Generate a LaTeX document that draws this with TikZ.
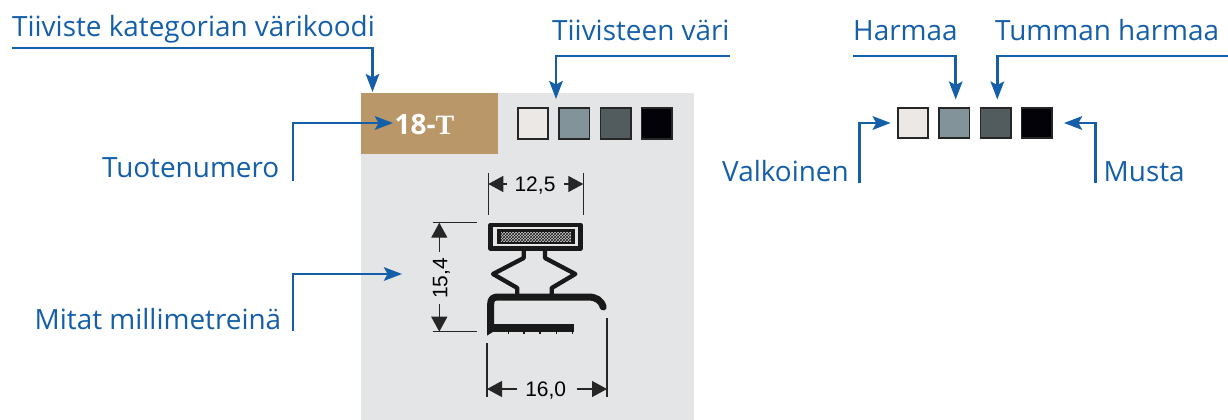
\documentclass[tikz,border=0pt]{standalone}
\usepackage{fontspec}
\setmainfont{Open Sans}
\newfontfamily\dimfont{Liberation Sans}
\newfontfamily\codefont{Liberation Serif}
\usetikzlibrary{arrows.meta,patterns}
\definecolor{linkblue}{HTML}{155FA9}
\definecolor{panelgray}{HTML}{E4E5E7}
\definecolor{codebrown}{HTML}{BA9769}
\tikzset{
	caption/.style = {inner sep=0pt, text=linkblue, font=\fontsize{27.9}{32}\selectfont, anchor=base west},
	callout/.style = {draw=linkblue, line width=2.7pt, -{Stealth[length=18pt,width=13.5pt,inset=3.5pt]}},
	swatch/.style = {draw=black!85, line width=1.6pt, minimum size=30.5pt, inner sep=0pt, node distance=41.3pt},
	dimtext/.style = {inner sep=0pt, font=\dimfont\fontsize{21}{24}\selectfont},
	dimline/.style = {draw=black!85, line width=1.2pt},
	dimarrow/.style = {draw=black!85, line width=1.2pt, -{Triangle[length=15pt,width=16pt]}},
	seal/.style = {draw=black!90, line width=4.3pt, line join=round}
}
\begin{document}
\begin{tikzpicture}[x=1pt,y=-1pt]
		\useasboundingbox (0,0) rectangle (1228,420);
		\node (panel) [fill=panelgray, minimum width=333pt, minimum height=327pt, inner sep=0pt, anchor=north west] at (361,93) {};
		\node (code) [fill=codebrown, minimum width=137pt, minimum height=61pt, inner sep=0pt, anchor=north west] at (361,93) {};
		\node (num) [inner sep=0pt, anchor=base west, text=white] at (394.5,134) {\fontsize{28}{32}\selectfont\bfseries 18-\codefont T};

		% swatches on the panel
		\node (a1) [swatch, fill={rgb,255:red,235;green,232;blue,229}] at (533,123.5) {};
		\node (a2) [swatch, fill={rgb,255:red,131;green,147;blue,154}] [right of = a1] {};
		\node (a3) [swatch, fill={rgb,255:red,82;green,92;blue,94}] [right of = a2] {};
		\node (a4) [swatch, fill={rgb,255:red,2;green,2;blue,8}] [right of = a3] {};
		% swatches on the right
		\node (b1) [swatch, fill={rgb,255:red,235;green,232;blue,229}] at (913,123) {};
		\node (b2) [swatch, fill={rgb,255:red,131;green,147;blue,154}] [right of = b1] {};
		\node (b3) [swatch, fill={rgb,255:red,82;green,92;blue,94}] [right of = b2] {};
		\node (b4) [swatch, fill={rgb,255:red,2;green,2;blue,8}] [right of = b3] {};

		\node (kat) [caption] at (12,36.5) {Tiiviste kategorian värikoodi};
		\node (vari) [caption] at (552,40.5) {Tiivisteen väri};
		\node (harmaa) [caption] at (853,40.5) {Harmaa};
		\node (tumma) [caption] at (995,40.5) {Tumman harmaa};
		\node (tuote) [caption] at (102,177) {Tuotenumero};
		\node (mitat) [caption] at (34.5,329) {Mitat millimetreinä};
		\node (valk) [caption] at (722,181) {Valkoinen};
		\node (musta) [caption] at (1103.5,181) {Musta};

		\coordinate (katS) at (12,48);
		\coordinate (katT) at (372.5,92);
		\coordinate (variS) at (730,56);
		\coordinate (variT) at (556,99);
		\coordinate (harmaaS) at (853,56);
		\coordinate (harmaaT) at (955.7,99.5);
		\coordinate (tummaS) at (1228,56);
		\coordinate (tummaT) at (997.3,99.5);
		\coordinate (tuoteS) at (293,181);
		\coordinate (tuoteT) at (393,123);
		\coordinate (mitatS) at (293,331);
		\coordinate (mitatT) at (402,274);
		\coordinate (valkS) at (859.5,183);
		\coordinate (valkT) at (890.7,123);
		\coordinate (mustaS) at (1095.5,183);
		\coordinate (mustaT) at (1064,123);

		\draw [callout] (katS) -| (katT);
		\draw [callout] (variS) -| (variT);
		\draw [callout] (harmaaS) -| (harmaaT);
		\draw [callout] (tummaS) -| (tummaT);
		\draw [callout] (tuoteS) |- (tuoteT);
		\draw [callout] (mitatS) |- (mitatT);
		\draw [callout] (valkS) |- (valkT);
		\draw [callout] (mustaS) |- (mustaT);

		% the seal
		\draw [seal] (490.4,224.8) rectangle (580.6,248.6);
		\fill [black!90] (497.3,229.3) rectangle (575,244.3);
		\fill [gray!40] (501,232.3) rectangle (570.7,242.3);
		\fill [pattern=crosshatch, pattern color=black!90] (501,232.3) rectangle (570.7,242.3);
		\draw [seal] (523.7,250) -- (523.7,258) -- (493,274) -- (517.3,288) -- (517.3,295);
		\draw [seal] (545,250) -- (545,258) -- (575.3,274) -- (551.7,288) -- (551.7,295);
		\draw [seal, line width=7pt, line cap=round] (490.7,328) -- (490.7,304) .. controls (490.7,299) and (493,297) .. (498,297) -- (588,297) .. controls (596,297) and (601,300) .. (603.2,307);
		\fill [black!90] (487,324) rectangle (574.3,331.7);
		\fill [black!90] (487,331) -- (494.5,331) -- (487,335.6) -- cycle;
		\foreach \tx in {508.3,524,540,556.7,572.7}
			\fill [black!90] (\tx-0.6,331) rectangle (\tx+0.6,333.6);

		% dimensions
		\coordinate (wa) at (488.3,173);
		\coordinate (wb) at (488.3,215);
		\coordinate (wc) at (583.3,173);
		\coordinate (wd) at (583.3,215);
		\draw [dimline] (wa) -- (wb);
		\draw [dimline] (wc) -- (wd);
		\node (w) [dimtext] at (535,185.5) {12,5};
		\coordinate (we) at (506.7,184);
		\coordinate (wf) at (488.3,184);
		\coordinate (wg) at (564,184);
		\coordinate (wh) at (583.3,184);
		\draw [dimarrow] (we) -- (wf);
		\draw [dimarrow] (wg) -- (wh);

		\coordinate (ba) at (487,343);
		\coordinate (bb) at (487,397);
		\coordinate (bc) at (607,318);
		\coordinate (bd) at (607,397);
		\draw [dimline] (ba) -- (bb);
		\draw [dimline] (bc) -- (bd);
		\node (b) [dimtext] at (545.7,390.5) {16,0};
		\coordinate (be) at (516.7,389);
		\coordinate (bf) at (487,389);
		\coordinate (bg) at (576.7,389);
		\coordinate (bh) at (607,389);
		\draw [dimarrow] (be) -- (bf);
		\draw [dimarrow] (bg) -- (bh);

		\coordinate (ha) at (432.7,222.7);
		\coordinate (hb) at (476.7,222.7);
		\coordinate (hc) at (432.7,331.7);
		\coordinate (hd) at (476.7,331.7);
		\draw [dimline] (ha) -- (hb);
		\draw [dimline] (hc) -- (hd);
		\node (h) [dimtext, rotate=90] at (441.5,278.5) {15,4};
		\coordinate (he) at (439.3,252);
		\coordinate (hf) at (439.3,222.7);
		\coordinate (hg) at (439.3,304);
		\coordinate (hh) at (439.3,331.7);
		\draw [dimarrow] (he) -- (hf);
		\draw [dimarrow] (hg) -- (hh);
\end{tikzpicture}
\end{document}
